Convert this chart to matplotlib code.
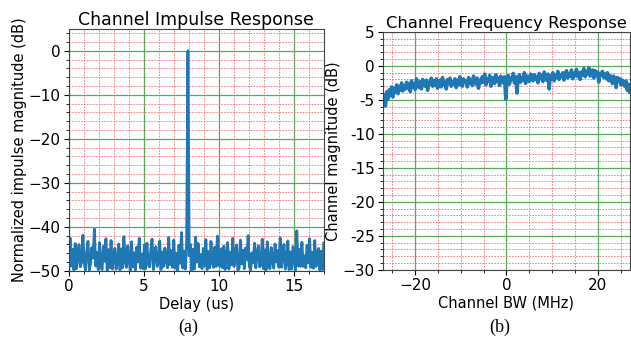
import numpy as np
import matplotlib
matplotlib.use("Agg")
import matplotlib.pyplot as plt
from matplotlib.ticker import MultipleLocator

# impulse response: noise floor samples, one spike at the main path
cir_db = [
    -49.6, -42.5, -48.9, -45.1, -49.8, -43.8, -49.5, -46.3, -44.0, -49.1, -47.9, -41.9, -48.2, -49.8, -45.6, -43.3, -49.8, -48.4, -44.7, -47.1,
    -40.5, -48.9, -45.8, -49.7, -43.6, -48.5, -49.7, -44.4, -47.8, -42.7, -50.0, -45.2, -49.3, -43.1, -49.6, -46.5, -44.9, -49.6, -48.1, -43.9,
    -49.8, -45.0, -49.3, -42.2, -47.7, -49.2, -44.3, -47.6, -49.9, -43.4, -49.1, -45.9, -49.8, -44.6, -48.0, -42.6, -49.4, -46.2, -49.5, -44.1,
    -49.5, -43.7, -48.4, -49.1, -45.3, -42.8, -49.7, -46.7, -44.5, -49.0, -47.9, -43.2, -49.7, -45.7, -49.0, -44.8, -47.4, -49.3, -42.4, -48.6,
    -45.4, -49.2, -43.0, -49.4, -46.0, -49.9, -44.2, -48.3, -41.3, -49.4, -45.5, -49.6, -43.5, 0.0, -46.6, -44.0, -49.9, -45.1, -49.6, -42.3,
    -48.0, -43.8, -49.1, -46.3, -49.5, -44.9, -48.8, -42.9, -49.7, -45.6, -49.3, -43.3, -47.9, -49.2, -44.6, -49.0, -42.1, -48.2, -49.0, -45.0,
    -49.3, -44.4, -49.7, -46.8, -43.6, -49.6, -45.8, -48.6, -42.6, -49.0, -46.1, -44.1, -49.8, -49.4, -43.0, -48.4, -45.3, -49.5, -44.8, -47.5,
    -42.0, -49.1, -49.8, -45.9, -48.1, -43.7, -49.3, -46.0, -44.3, -49.1, -48.7, -42.8, -49.5, -45.2, -49.8, -43.4, -48.5, -49.5, -44.7, -47.7,
    -49.4, -43.9, -48.0, -45.4, -49.2, -42.5, -49.2, -46.4, -44.0, -49.6, -48.3, -43.2, -49.7, -45.7, -49.6, -44.5, -47.2, -49.9, -40.9, -48.9,
    -45.1, -49.0, -43.5, -49.0, -46.6, -49.3, -44.2, -48.2, -42.7, -49.2, -45.8, -49.4, -43.1, -49.0, -46.3, -44.9, -49.8, -45.5, -49.7, -43.7,
]
delay_us = np.linspace(0, 17, len(cir_db))

# frequency response across the channel bandwidth
cfr_db = [
    -5.6, -4.2, -5.9, -3.8, -4.9, -3.5, -4.4, -3.1, -4.6, -3.3, -3.9, -2.8, -4.1, -3.0, -3.6, -2.5, -3.7, -2.9, -3.4, -2.4,
    -3.3, -2.6, -3.8, -2.2, -3.1, -2.7, -3.5, -1.9, -2.9, -3.2, -2.3, -3.4, -2.0, -2.8, -3.0, -2.1, -3.6, -2.4, -2.7, -1.8,
    -3.0, -2.2, -2.9, -1.9, -3.3, -2.5, -2.1, -3.1, -1.7, -2.8, -2.4, -3.4, -2.0, -2.6, -1.8, -3.0, -2.3, -2.7, -1.9, -3.2,
    -2.1, -2.8, -1.6, -2.5, -3.0, -1.9, -2.4, -2.2, -3.1, -1.7, -2.6, -2.0, -2.9, -1.5, -2.3, -2.7, -1.8, -3.3, -2.1, -2.5,
    -1.6, -2.4, -1.2, -2.8, -1.9, -2.2, -1.4, -3.0, -2.0, -1.7, -2.6, -1.3, -2.3, -1.8, -2.9, -1.5, -2.1, -2.5, -1.6, -4.9,
    -2.2, -1.4, -2.7, -1.8, -2.0, -1.1, -2.5, -1.6, -4.0, -1.9, -1.3, -2.4, -1.7, -2.1, -1.0, -2.6, -1.5, -1.9, -2.3, -1.2,
    -1.8, -2.2, -1.3, -2.0, -1.6, -2.5, -1.1, -1.9, -1.4, -2.3, -0.9, -1.7, -2.1, -1.2, -3.4, -1.5, -1.9, -1.0, -2.2, -1.4,
    -1.7, -0.8, -2.0, -1.3, -1.6, -1.0, -2.1, -1.4, -0.7, -1.8, -1.2, -1.5, -0.6, -1.9, -1.1, -1.4, -0.5, -1.6, -1.0, -2.0,
    -0.9, -1.3, -0.4, -1.6, -0.8, -1.2, -0.3, -1.5, -1.0, -0.6, -1.8, -0.7, -1.3, -0.9, -2.4, -1.1, -1.4, -0.8, -1.7, -1.2,
    -1.9, -1.0, -2.2, -1.4, -1.8, -2.6, -1.5, -2.0, -3.2, -1.7, -2.3, -1.9, -2.8, -2.1, -2.5, -3.0, -2.2, -3.6, -2.7, -3.9,
]
bw_mhz = np.linspace(-27, 27, len(cfr_db))

cfr_ticks = [5, 0, -5, -10, -15, -20, -25, -30]
cfr_tick_labels = ["5", "0", "-5", "-10", "-15", "-20", "-25", "\u221230"]

blue = "#1f77b4"
fig = plt.figure(figsize=(6.31, 3.39), dpi=100)


def style_grid(ax):
    ax.grid(which="major", color="#5aaa5a", linewidth=0.9)
    ax.grid(which="minor", color="#f07070", linestyle="--", linewidth=0.6, dashes=(2, 1.5))
    ax.tick_params(which="major", labelsize=11, length=3.5, width=0.8, pad=2.5)
    ax.tick_params(which="minor", length=2, width=0.6)
    for s in ax.spines.values():
        s.set_color("#444444")
        s.set_linewidth(0.8)


# (a) impulse response
ax1 = fig.add_axes([0.109, 0.201, 0.404, 0.714])
ax1.plot(delay_us, cir_db, color=blue, linewidth=2.0)
ax1.set_xlim(0, 17)
ax1.set_ylim(-50, 5)
ax1.xaxis.set_major_locator(MultipleLocator(5))
ax1.xaxis.set_minor_locator(MultipleLocator(1))
ax1.yaxis.set_major_locator(MultipleLocator(10))
ax1.yaxis.set_minor_locator(MultipleLocator(2))
ax1.set_axisbelow(True)
style_grid(ax1)
ax1.set_title("Channel Impulse Response", fontsize=12.5, pad=3)
ax1.set_xlabel("Delay (us)", fontsize=10.5, labelpad=2)
ax1.set_ylabel("Normalized impulse magnitude (dB)", fontsize=10.5, labelpad=1)

# (b) frequency response
ax2 = fig.add_axes([0.607, 0.204, 0.391, 0.702])
ax2.plot(bw_mhz, cfr_db, color=blue, linewidth=2.5)
ax2.set_xlim(-27, 27)
ax2.set_ylim(-30, 5)
ax2.xaxis.set_major_locator(MultipleLocator(20))
ax2.xaxis.set_minor_locator(MultipleLocator(5))
ax2.set_yticks(cfr_ticks)
ax2.set_yticklabels(cfr_tick_labels)
ax2.yaxis.set_minor_locator(MultipleLocator(1))
ax2.set_axisbelow(True)
style_grid(ax2)
ax2.set_title("Channel Frequency Response", fontsize=11.8, pad=3)
ax2.set_xlabel("Channel BW (MHz)", fontsize=10.5, labelpad=2)
ax2.set_ylabel("Channel magnitude (dB)", fontsize=10.5, labelpad=1)

fig.text(188 / 631, 1 - 327 / 339, "(a)", family="Liberation Serif", fontsize=13,
         ha="center", va="center")
fig.text(500 / 631, 1 - 327 / 339, "(b)", family="Liberation Serif", fontsize=13,
         ha="center", va="center")

fig.savefig("out.png", dpi=100)
